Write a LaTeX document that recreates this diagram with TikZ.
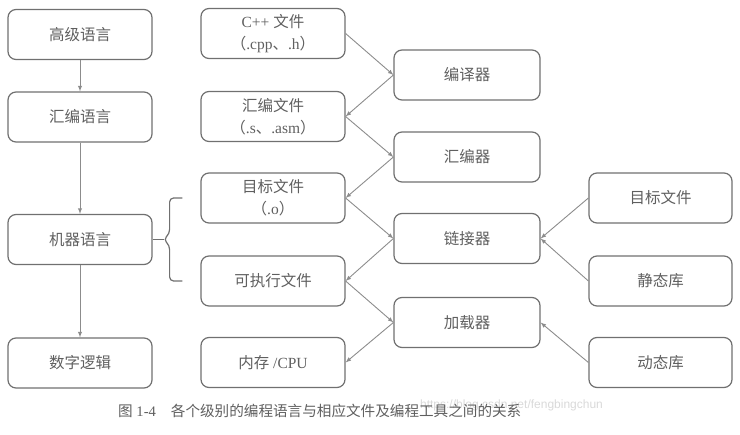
\documentclass[tikz,border=0pt]{standalone}
\usepackage{fontspec}
\setmainfont{Liberation Serif}
\setsansfont{Liberation Sans}
\newfontfamily\zhfont{Noto Sans CJK SC}
\newcommand{\zh}[1]{{\zhfont #1}}
\usepackage{xcolor}
\usetikzlibrary{arrows.meta,calc,positioning}
\definecolor{boxgray}{RGB}{112,112,112}
\definecolor{textgray}{RGB}{95,95,95}
\definecolor{linegray}{RGB}{140,140,140}

\begin{document}
\begin{tikzpicture}[x=1pt, y=-1pt,
    box/.style={draw=boxgray, line width=1.2pt, rounded corners=8pt, minimum height=50pt, align=center, text=textgray, font=\fontsize{15.5}{22}\selectfont},
    link/.style={draw=linegray, line width=0.9pt, -latex},
    brace/.style={draw=boxgray, line width=1.2pt, rounded corners=4pt}]
  \useasboundingbox (0,0) rectangle (740,435);
  % Draw the language levels on the left
  \foreach \i/\y/\txt in {1/34.5/高级语言, 2/117/汇编语言, 3/239.5/机器语言, 4/363/数字逻辑} {
    \node[box, minimum width=144pt] (langBox\i) at (80,\y) {\zh{\txt}};
  }
  \foreach \i/\j in {1/2, 2/3, 3/4}
    \draw[link] (langBox\i.south) -- (langBox\j.north);
  % Draw the files
  \foreach \i/\y/\txt in {1/33.5/{C++ \zh{文件}\\\zh{（}.cpp\zh{、}.h\zh{）}},
                          2/116.5/{\zh{汇编文件}\\\zh{（}.s\zh{、}.asm\zh{）}},
                          3/198/{\zh{目标文件}\\\zh{（}.o\zh{）}},
                          4/281/{\zh{可执行文件}},
                          5/362.5/{\zh{内存} /CPU}} {
    \node[box, minimum width=144pt] (fileBox\i) at (273,\y) {\txt};
  }
  % Draw the tools
  \foreach \i/\y/\txt in {1/75/编译器, 2/157/汇编器, 3/238.5/链接器, 4/322.5/加载器} {
    \node[box, minimum width=146pt] (toolBox\i) at (467,\y) {\zh{\txt}};
  }
  % Draw the libraries on the right
  \foreach \i/\y/\txt in {1/198/目标文件, 2/281/静态库, 3/362.5/动态库} {
    \node[box, minimum width=143pt] (libBox\i) at (660.5,\y) {\zh{\txt}};
  }
  % Draw connecting arrows
  \foreach \f/\t in {1/1, 2/2, 3/3, 4/4}
    \draw[link] (fileBox\f.east) -- (toolBox\t.west);
  \foreach \t/\f in {1/2, 2/3, 3/4, 4/5}
    \draw[link] (toolBox\t.west) -- (fileBox\f.east);
  \foreach \l/\t in {1/3, 2/3, 3/4}
    \draw[link] (libBox\l.west) -- (toolBox\t.east);
  % Brace from machine language to object and executable files
  \draw[brace] ($(fileBox3.west)+(-18,0)$) -| ($(langBox3.east)+(17,-6)$)
    -- ($(langBox3.east)+(11,0)$) -- ($(langBox3.east)+(17,6)$)
    |- ($(fileBox4.west)+(-18,0)$);
  \draw[brace] (langBox3.east) -- ($(langBox3.east)+(11,0)$);
  % Caption
  \node[text=black!15, font=\sffamily\fontsize{12}{14}\selectfont, inner sep=0pt] (watermark) at (511.5,405) {https://blog.csdn.net/fengbingchun};
  \node[anchor=west, text=textgray, font=\fontsize{14.6}{16}\selectfont, inner sep=0pt] (caption) at (118,411)
    {\zh{图} 1-4\hspace{15pt}\zh{各个级别的编程语言与相应文件及编程工具之间的关系}};
\end{tikzpicture}
\end{document}
